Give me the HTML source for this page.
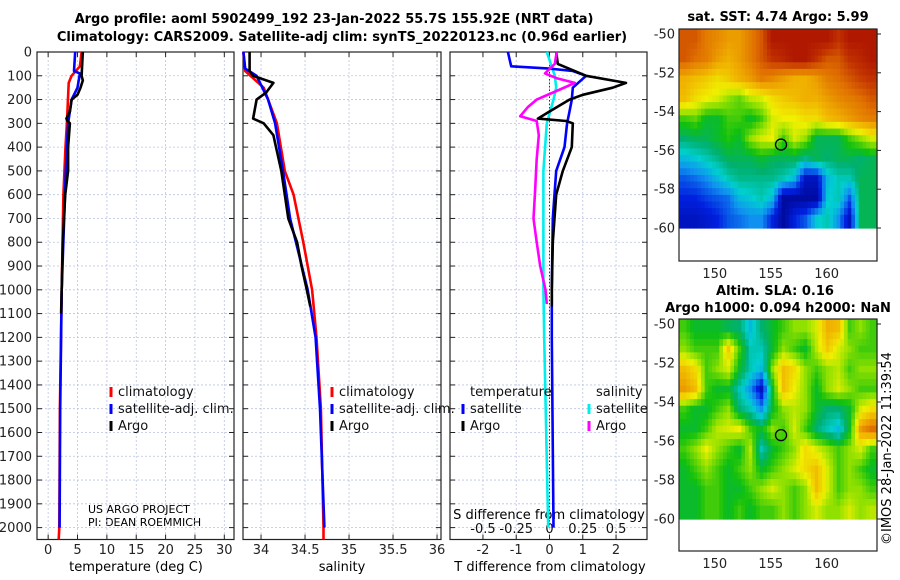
<!DOCTYPE html>
<html><head><meta charset="utf-8">
<style>
html,body{margin:0;padding:0;background:#fff;}
svg{display:block;font-family:"DejaVu Sans","Liberation Sans",sans-serif;}
</style></head>
<body>
<svg id="fig" width="900" height="580" viewBox="0 0 900 580" xmlns="http://www.w3.org/2000/svg">
<text x="334" y="23" text-anchor="middle" font-size="13" font-weight="bold">Argo profile: aoml 5902499_192 23-Jan-2022 55.7S 155.92E (NRT data)</text>
<text x="342" y="41" text-anchor="middle" font-size="13" font-weight="bold">Climatology: CARS2009. Satellite-adj clim: synTS_20220123.nc (0.96d earlier)</text>
<text x="136" y="571" text-anchor="middle" font-size="13">temperature (deg C)</text>
<text x="342" y="571" text-anchor="middle" font-size="13">salinity</text>
<text x="550" y="571" text-anchor="middle" font-size="13">T difference from climatology</text>
<text x="549" y="519" text-anchor="middle" font-size="13">S difference from climatology</text>
<text x="88" y="513" font-size="11">US ARGO PROJECT</text>
<text x="88" y="526" font-size="11">PI: DEAN ROEMMICH</text>
<text x="778" y="21" text-anchor="middle" font-size="13" font-weight="bold">sat. SST: 4.74 Argo: 5.99</text>
<text x="775" y="295" text-anchor="middle" font-size="13" font-weight="bold">Altim. SLA: 0.16</text>
<text x="778" y="312" text-anchor="middle" font-size="13" font-weight="bold">Argo h1000: 0.094 h2000: NaN</text>
<text transform="translate(891,545) rotate(-90)" font-size="13">©IMOS 28-Jan-2022 11:39:54</text>
<g id="layer"></g>
</svg>
<script>
// ---------- data ----------
const depthTicks = [0,100,200,300,400,500,600,700,800,900,1000,1100,1200,1300,1400,1500,1600,1700,1800,1900,2000];
const tempTicks = [0,5,10,15,20,25,30];
const salTicks = [34,34.5,35,35.5,36];
const salTickLabels = ["34","34.5","35","35.5","36"];
const tdiffTicks = [-2,-1,0,1,2];
const sdiffTickLabels = ["-0.5","-0.25","0","0.25","0.5"];
const sdiffTicks = [-0.5,-0.25,0,0.25,0.5];

const tClimDepth = [0,60,100,130,300,400,600,1000,1500,2000,2050];
const tClimVal   = [5.7,5.4,4.0,3.5,3.2,2.95,2.6,2.3,2.0,1.9,1.8];
const tSatDepth  = [0,80,90,150,200,300,500,1000,1500,2000];
const tSatVal    = [4.6,4.4,5.4,5.0,4.0,3.4,3.0,2.3,2.05,1.95];
const tArgoDepth = [0,50,100,120,150,180,200,250,280,290,300,400,500,600,800,1000,1100];
const tArgoVal   = [5.9,5.8,5.7,5.9,5.5,5.0,4.0,3.7,3.1,3.3,3.7,3.4,3.4,2.9,2.5,2.3,2.2];

const sClimDepth = [0,80,150,300,500,600,800,1000,1200,1500,2000,2050];
const sClimVal   = [33.8,33.82,34.03,34.18,34.27,34.37,34.48,34.58,34.63,34.68,34.71,34.71];
const sSatDepth  = [0,70,100,200,300,500,700,1000,1200,1500,2000];
const sSatVal    = [33.8,33.82,33.95,34.08,34.16,34.25,34.33,34.53,34.62,34.67,34.72];
const sArgoDepth = [0,80,100,130,170,200,280,300,350,400,500,600,700,800,900,1000,1070];
const sArgoVal   = [33.87,33.87,33.91,34.14,34.06,33.95,33.91,34.03,34.14,34.17,34.23,34.27,34.31,34.41,34.46,34.52,34.56];

const dTArgoDepth = [0,50,100,130,150,180,200,250,280,290,300,400,500,600,800,1000,1070];
const dTArgoVal   = [0.2,0.25,1.1,2.3,1.9,1.0,0.6,0.0,-0.35,0.5,0.7,0.67,0.4,0.2,0.1,0.07,0.07];
const dTSatDepth  = [0,60,70,80,100,150,200,250,300,400,500,700,1000,1200,2000];
const dTSatVal    = [-1.25,-1.15,0,0.7,1.1,0.7,0.67,0.6,0.53,0.45,0.2,0.1,0.07,0.07,0.12];
const dSArgoDepth = [0,50,90,110,130,160,200,230,270,290,350,450,600,700,800,900,1000,1060];
const dSArgoVal   = [0.054,0.04,-0.034,0.054,0.19,0.07,-0.096,-0.16,-0.22,-0.096,-0.08,-0.096,-0.11,-0.12,-0.096,-0.07,-0.03,-0.02];
const dSSatDepth  = [0,100,150,200,300,500,1000,1200,2000];
const dSSatVal    = [-0.02,0.04,0.05,0.03,-0.02,-0.046,-0.046,-0.04,-0.01];

const mapLatTicks = [-50,-52,-54,-56,-58,-60];
const mapLonTicks = [150,155,160];
const argoLon = 155.92;
const argoLat = -55.7;
const sstGrid = [
[0.85,0.85,0.8,0.78,0.75,0.75,0.8,0.85,0.95,0.95,0.95,0.95,0.95,0.95,0.9,0.95,0.95,0.95],
[0.85,0.82,0.8,0.75,0.72,0.75,0.8,0.85,0.9,0.92,0.95,0.95,0.9,0.85,0.85,0.9,0.92,0.95],
[0.72,0.7,0.68,0.65,0.68,0.72,0.75,0.8,0.78,0.75,0.72,0.72,0.75,0.8,0.82,0.85,0.88,0.9],
[0.7,0.65,0.62,0.6,0.55,0.52,0.58,0.6,0.65,0.68,0.7,0.72,0.72,0.75,0.78,0.8,0.82,0.85],
[0.5,0.52,0.45,0.45,0.5,0.5,0.45,0.5,0.6,0.62,0.62,0.65,0.65,0.7,0.72,0.75,0.78,0.8],
[0.4,0.42,0.42,0.45,0.48,0.45,0.55,0.6,0.62,0.5,0.6,0.55,0.42,0.42,0.42,0.5,0.55,0.6],
[0.3,0.32,0.35,0.38,0.42,0.42,0.42,0.45,0.42,0.42,0.42,0.38,0.42,0.4,0.42,0.42,0.4,0.42],
[0.2,0.22,0.25,0.3,0.35,0.38,0.38,0.38,0.38,0.35,0.3,0.1,0.1,0.3,0.35,0.35,0.42,0.42],
[0.15,0.15,0.18,0.2,0.22,0.3,0.32,0.35,0.3,0.05,0.05,0.05,0.05,0.32,0.35,0.2,0.42,0.42],
[0.1,0.1,0.12,0.15,0.2,0.22,0.25,0.25,0.15,0.05,0.15,0.2,0.32,0.35,0.25,0.1,0.42,0.42]];
const slaGrid = [
[.5,.45,.45,.45,.42,.4,.3,.4,.45,.5,.55,.55,.6,.72,.7,.5,.55,.5],
[.55,.5,.5,.5,.68,.5,.35,.35,.45,.55,.5,.45,.58,.68,.6,.55,.5,.5],
[.7,.65,.5,.55,.6,.45,.35,.3,.55,.7,.65,.55,.5,.55,.58,.5,.55,.55],
[.75,.7,.5,.45,.45,.35,.25,.1,.45,.7,.62,.55,.45,.55,.6,.55,.5,.5],
[.5,.45,.45,.5,.55,.4,.35,.25,.45,.55,.58,.55,.45,.4,.4,.45,.6,.65],
[.45,.45,.5,.58,.6,.62,.5,.45,.55,.5,.6,.5,.4,.35,.3,.45,.75,.82],
[.5,.55,.62,.55,.5,.45,.58,.35,.45,.5,.55,.65,.6,.55,.5,.55,.6,.5],
[.45,.5,.55,.5,.45,.5,.55,.45,.5,.55,.6,.65,.7,.6,.5,.55,.5,.45],
[.45,.45,.5,.5,.45,.45,.5,.55,.6,.55,.5,.55,.7,.6,.5,.55,.55,.5],
[.45,.45,.5,.5,.45,.5,.45,.5,.5,.55,.5,.55,.6,.55,.55,.6,.55,.58]];

// ---------- helpers ----------
const NS = "http://www.w3.org/2000/svg";
const layer = document.getElementById('layer');
function mk(tag, attrs, parent){
  const e = document.createElementNS(NS, tag);
  for (const k in attrs) e.setAttribute(k, attrs[k]);
  (parent||layer).appendChild(e);
  return e;
}
const Y0 = 52, Y1 = 539.5, DMAX = 2050;
function yDepth(d){ return Y0 + d/DMAX*(Y1-Y0); }
function scaleX(x0,x1,vmin,vmax){ return v => x0 + (v-vmin)/(vmax-vmin)*(x1-x0); }

function drawPanel(name, x0, x1, sx, xticks, xlabels, showDepthLabels){
  const g = mk('g',{});
  
  
  depthTicks.forEach(d=>{
    const y = yDepth(d);
    const gl = mk('line',{x1:x0,x2:x1,y1:y,y2:y,stroke:'#b8c4e0','stroke-width':0.8,'stroke-dasharray':'2,2'},g);
    
    
    const t1 = mk('line',{x1:x0,x2:x0+5,y1:y,y2:y,stroke:'#222'},g);
    
    
    const t2 = mk('line',{x1:x1-5,x2:x1,y1:y,y2:y,stroke:'#222'},g);
    
    
    if (showDepthLabels){
      const tl = mk('text',{x:x0-5,y:y+4.5,'text-anchor':'end','font-size':13,fill:'#222'},g);
      tl.textContent = d;
      
      
    }
  });
  xticks.forEach((v,i)=>{
    const x = sx(v);
    const gl = mk('line',{x1:x,x2:x,y1:Y0,y2:Y1,stroke:'#b8c4e0','stroke-width':0.8,'stroke-dasharray':'2,2'},g);
    
    
    const tk = mk('line',{x1:x,x2:x,y1:Y1,y2:Y1-5,stroke:'#222'},g);
    
    
    const tk2 = mk('line',{x1:x,x2:x,y1:Y0,y2:Y0+5,stroke:'#222'},g);
    
    
    const tl = mk('text',{x:x,y:554,'text-anchor':'middle','font-size':13,fill:'#222'},g);
    tl.textContent = xlabels[i];
    
    
  });
  const box = mk('rect',{x:x0,y:Y0,width:x1-x0,height:Y1-Y0,fill:'none',stroke:'#222','stroke-width':1.2},g);
  
  
  return g;
}
function drawLine(g, name, sx, depths, vals, color, w){
  const pts = depths.map((d,i)=> sx(vals[i]).toFixed(1)+','+yDepth(d).toFixed(1)).join(' ');
  const p = mk('polyline',{points:pts,fill:'none',stroke:color,'stroke-width':w||2.6,'stroke-linejoin':'round'},g);
  
  
}
function legendEntry(g, name, x, y, color, label){
  const m = mk('line',{x1:x,x2:x,y1:y-9,y2:y+1,stroke:color,'stroke-width':3},g);
  
  
  const t = mk('text',{x:x+7,y:y,'font-size':13,fill:'#111'},g);
  t.textContent = label;
  
  
}

// ---------- panel 1: temperature ----------
const sxT = scaleX(37,234,-1.9,31.65);
const gT = drawPanel('temperature',37,234,sxT,tempTicks,tempTicks.map(String),true);
drawLine(gT,'temp-climatology-line',sxT,tClimDepth,tClimVal,'#f00');
drawLine(gT,'temp-satellite-line',sxT,tSatDepth,tSatVal,'#00f');
drawLine(gT,'temp-argo-line',sxT,tArgoDepth,tArgoVal,'#000');
legendEntry(gT,'legend-climatology',111,396,'#f00','climatology');
legendEntry(gT,'legend-satellite-adj',111,413,'#00f','satellite-adj. clim.');
legendEntry(gT,'legend-argo',111,430,'#000','Argo');

// ---------- panel 2: salinity ----------
const sxS = scaleX(243,441,33.795,36.045);
const gS = drawPanel('salinity',243,441,sxS,salTicks,salTickLabels,false);
drawLine(gS,'sal-climatology-line',sxS,sClimDepth,sClimVal,'#f00');
drawLine(gS,'sal-satellite-line',sxS,sSatDepth,sSatVal,'#00f');
drawLine(gS,'sal-argo-line',sxS,sArgoDepth,sArgoVal,'#000');
legendEntry(gS,'legend-climatology-sal',332,396,'#f00','climatology');
legendEntry(gS,'legend-satellite-adj-sal',332,413,'#00f','satellite-adj. clim.');
legendEntry(gS,'legend-argo-sal',332,430,'#000','Argo');

// ---------- panel 3: differences ----------
const sxD = scaleX(450,647,-2.99,2.93);
const sxDS = v => sxD(v*4);
const gD = drawPanel('difference',450,647,sxD,tdiffTicks,tdiffTicks.map(String),false);
const zl = mk('line',{x1:sxD(0),x2:sxD(0),y1:yDepth(40),y2:yDepth(2000),stroke:'#333','stroke-width':1,'stroke-dasharray':'1.5,2'},gD);


sdiffTicks.forEach((v,i)=>{
  const t = mk('text',{x:sxDS(v),y:533,'text-anchor':'middle','font-size':13,fill:'#111'},gD);
  t.textContent = sdiffTickLabels[i];
  
  
});
drawLine(gD,'sdiff-satellite-line',sxDS,dSSatDepth,dSSatVal,'#0ee');
drawLine(gD,'tdiff-satellite-line',sxD,dTSatDepth,dTSatVal,'#00f');
drawLine(gD,'tdiff-argo-line',sxD,dTArgoDepth,dTArgoVal,'#000');
drawLine(gD,'sdiff-argo-line',sxDS,dSArgoDepth,dSArgoVal,'#f0f');
const lt1 = mk('text',{x:470,y:396,'font-size':13,fill:'#111'},gD);
lt1.textContent = 'temperature';


const lt2 = mk('text',{x:596,y:396,'font-size':13,fill:'#111'},gD);
lt2.textContent = 'salinity';


legendEntry(gD,'legend-tdiff-satellite',463,413,'#00f','satellite');
legendEntry(gD,'legend-tdiff-argo',463,430,'#000','Argo');
legendEntry(gD,'legend-sdiff-satellite',589,413,'#0ee','satellite');
legendEntry(gD,'legend-sdiff-argo',589,430,'#f0f','Argo');

// ---------- maps ----------
const cmStops = [
 [0.0,[0,0,128]],[0.15,[0,32,224]],[0.25,[16,144,240]],[0.33,[0,208,208]],
 [0.4,[0,176,112]],[0.47,[16,192,16]],[0.55,[144,224,0]],[0.62,[240,240,0]],
 [0.72,[240,176,0]],[0.82,[224,112,0]],[0.9,[192,48,0]],[1.0,[160,0,0]]];
function cmap(v){
  v = Math.max(0,Math.min(1,v));
  for (let i=1;i<cmStops.length;i++){
    if (v <= cmStops[i][0]){
      const a = cmStops[i-1], b = cmStops[i];
      const t = (v-a[0])/(b[0]-a[0]);
      const c = [0,1,2].map(k=>Math.round(a[1][k]+(b[1][k]-a[1][k])*t));
      return 'rgb('+c.join(',')+')';
    }
  }
  return 'rgb(160,0,0)';
}
function sample(grid, fr, fc){
  const R = grid.length-1, C = grid[0].length-1;
  fr = Math.max(0,Math.min(R,fr)); fc = Math.max(0,Math.min(C,fc));
  const r0 = Math.floor(fr), c0 = Math.floor(fc);
  const r1 = Math.min(R,r0+1), c1 = Math.min(C,c0+1);
  const tr = fr-r0, tc = fc-c0;
  return (grid[r0][c0]*(1-tc)+grid[r0][c1]*tc)*(1-tr) + (grid[r1][c0]*(1-tc)+grid[r1][c1]*tc)*tr;
}
function drawMap(name, boxTop, boxBot, latTopPx, latBotPx, grid){
  const X0 = 679, X1 = 877, LON0 = 146.8, LON1 = 164.5;
  const lonX = v => X0 + (v-LON0)/(LON1-LON0)*(X1-X0);
  const latY = v => latTopPx + (-50 - v)/10*(latBotPx-latTopPx);
  const g = mk('g',{});
  
  
  const rows = grid.length, cols = grid[0].length;
  const SUB = 3;
  const lonStep = (LON1-LON0)/(cols*SUB);
  const latStart = -49.75, latStep = (60 - 49.75)/(rows*SUB);
  for (let r=0;r<rows*SUB;r++){
    for (let c=0;c<cols*SUB;c++){
      const v = sample(grid, (r+0.5)/SUB-0.5, (c+0.5)/SUB-0.5);
      const xa = lonX(LON0 + c*lonStep), xb = lonX(LON0 + (c+1)*lonStep);
      const ya = latY(latStart - r*latStep), yb = latY(latStart - (r+1)*latStep);
      const cell = mk('rect',{x:xa.toFixed(1),y:ya.toFixed(1),width:(xb-xa+0.6).toFixed(1),height:(yb-ya+0.6).toFixed(1),fill:cmap(v)},g);
      
      
    }
  }
  const box = mk('rect',{x:X0,y:boxTop,width:X1-X0,height:boxBot-boxTop,fill:'none',stroke:'#222','stroke-width':1.2},g);
  
  
  mapLatTicks.forEach(l=>{
    const y = latY(l);
    const tk = mk('line',{x1:X1,x2:X1+4,y1:y,y2:y,stroke:'#222'},g);
    
    
    const t = mk('text',{x:X0-4,y:y+4.5,'text-anchor':'end','font-size':13,fill:'#222'},g);
    t.textContent = l;
    
    
  });
  mapLonTicks.forEach(l=>{
    const x = lonX(l);
    const t = mk('text',{x:x,y:boxBot+17,'text-anchor':'middle','font-size':13,fill:'#222'},g);
    t.textContent = l;
    
    
  });
  const c = mk('circle',{cx:lonX(argoLon),cy:latY(argoLat),r:5.5,fill:'none',stroke:'#000','stroke-width':1.3},g);
  
  
}
drawMap('sst-map',29,261,34,228,sstGrid);
drawMap('sla-map',319,551,324,519,slaGrid);
</script>
</body></html>
